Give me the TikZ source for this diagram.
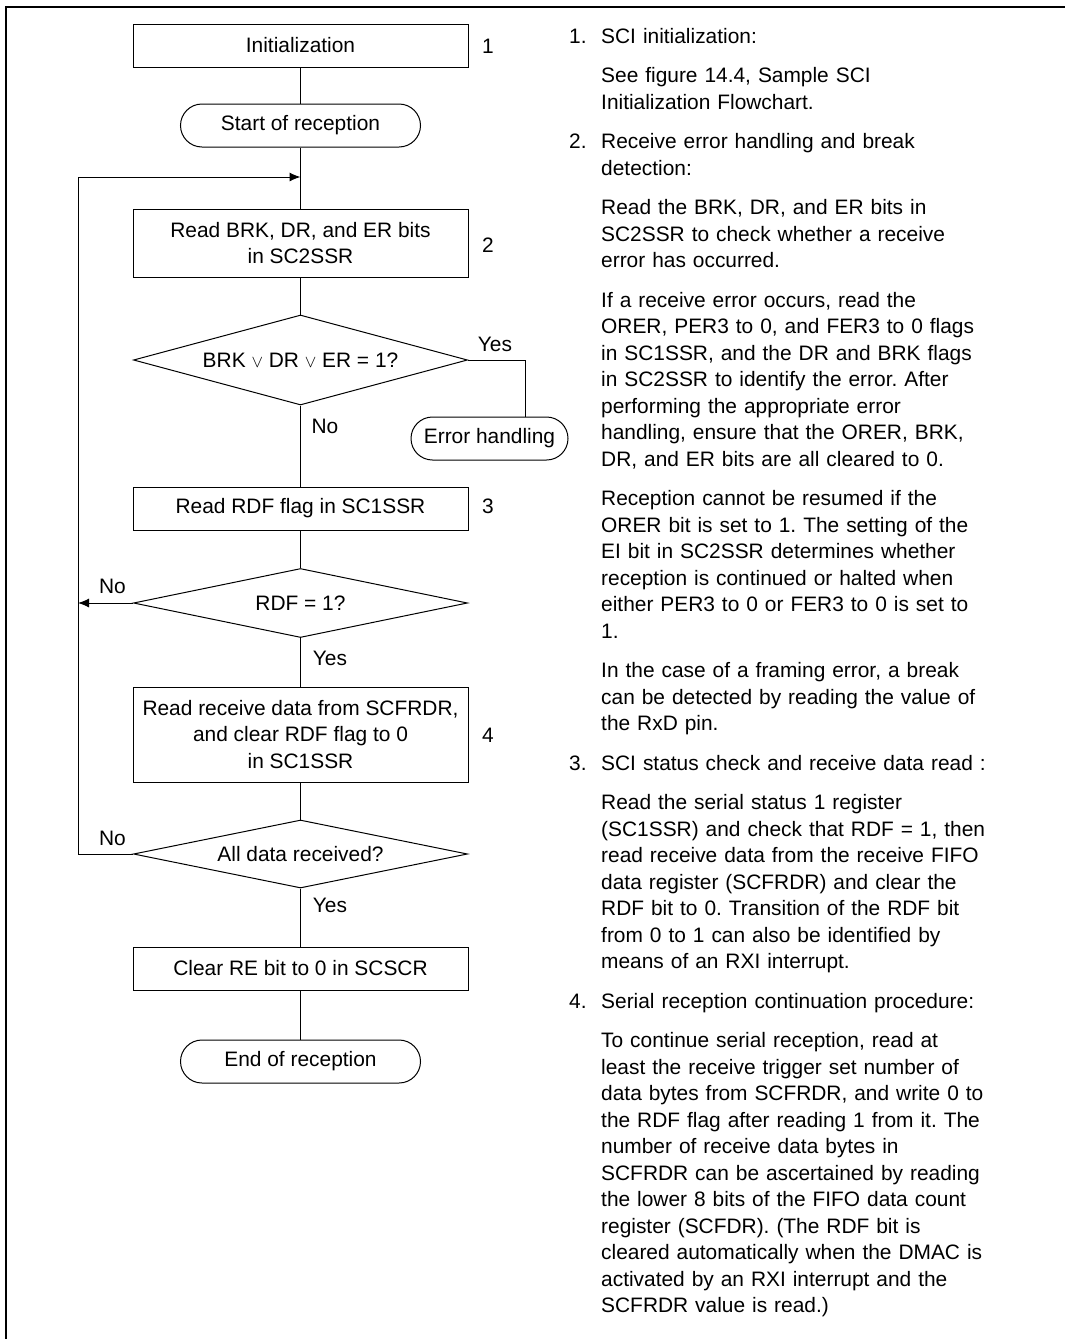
\documentclass[tikz,border=0pt]{standalone}
\usepackage{fontspec}
\setmainfont{Liberation Sans}
\usetikzlibrary{shapes.geometric,arrows.meta}
\frenchspacing
\begin{document}
\begin{tikzpicture}[x=1pt,y=-1pt,
  every node/.style={font=\fontsize{20.9}{26.5}\selectfont\frenchspacing},
  box/.style={draw,line width=1pt,rectangle,minimum width=335pt,inner sep=0pt,align=center},
  term/.style={draw,line width=1pt,rounded corners=21.5pt,minimum height=43pt,inner sep=0pt},
  dec/.style={draw,line width=1pt,diamond,inner sep=0pt,minimum width=334pt},
  conn/.style={line width=1pt},
  tip/.style={-{Latex[length=11pt,width=9pt]}},
  lbl/.style={inner sep=0pt},
  num/.style={anchor=base west,inner sep=0pt},
  para/.style={anchor=base west,inner sep=0pt,text width=455pt,align=left},
]
\useasboundingbox (0,0) rectangle (1065,1339);
% frame
\draw[line width=2pt] (5.7,1339) -- (5.7,6.8) -- (1065,6.8);

% flowchart nodes
\node[box,minimum height=43pt] (init) at (300.5,45.5) {Initialization};
\node[term,minimum width=240pt] (start) at (300.5,125.5) {Start of reception};
\node[box,minimum height=68pt] (brk) at (300.5,243) {Read BRK, DR, and ER bits\\in SC2SSR};
\node[dec,minimum height=90pt,shape aspect=3.7] (d1) at (300.5,360) {BRK {\fontsize{17}{17}\selectfont$\vee$} DR {\fontsize{17}{17}\selectfont$\vee$} ER = 1?};
\node[term,minimum width=157pt] (errh) at (489.5,438.5) {Error handling};
\node[box,minimum height=43pt] (rdf) at (300.5,508.5) {Read RDF flag in SC1SSR};
\node[dec,minimum height=69pt,shape aspect=4.8] (d2) at (300.5,603) {RDF = 1?};
\node[box,minimum height=95pt] (rrd) at (300.5,734.5) {Read receive data from SCFRDR,\\and clear RDF flag to 0\\in SC1SSR};
\node[dec,minimum height=68pt,shape aspect=4.9] (d3) at (300.5,854) {All data received?};
\node[box,minimum height=43pt] (clr) at (300.5,968.5) {Clear RE bit to 0 in SCSCR};
\node[term,minimum width=240pt] (fin) at (300.5,1061.5) {End of reception};

% step numbers
\node[lbl] (n1) at (488,46) {1};
\node[lbl] (n2) at (488,245) {2};
\node[lbl] (n3) at (488,506) {3};
\node[lbl] (n4) at (488,735) {4};

% branch labels
\node[lbl] (y1) at (495,344.5) {Yes};
\node[lbl] (no1) at (325,426) {No};
\node[lbl] (no2) at (112.5,586) {No};
\node[lbl] (y2) at (330,658) {Yes};
\node[lbl] (no3) at (112.5,838) {No};
\node[lbl] (y3) at (330,905) {Yes};

% connectors
\coordinate (merge) at (300.5,177);
\coordinate (lx) at (78,177);
\coordinate (ey) at (525,360);
\draw[conn] (init) -- (start);
\draw[conn] (start) -- (brk);
\draw[conn] (brk) -- (d1);
\draw[conn] (d1.east) -- (ey) -- (ey |- errh.north);
\draw[conn] (d1) -- (rdf);
\draw[conn] (rdf) -- (d2);
\draw[conn,tip] (d2.west) -- (d2.west -| lx);
\draw[conn] (d2) -- (rrd);
\draw[conn] (rrd) -- (d3);
\draw[conn,tip] (d3.west) -- (d3.west -| lx) -- (lx) -- (merge);
\draw[conn] (d3) -- (clr);
\draw[conn] (clr) -- (fin);

% explanatory text
\node[num] (k1) at (569,43.3) {1.};
\node[para] (p1) at (601,43.3) {SCI initialization:};
\node[para] (p2) at (601,82.8) {See figure 14.4, Sample SCI\\Initialization Flowchart.};
\node[num] (k2) at (569,148.8) {2.};
\node[para] (p3) at (601,148.8) {Receive error handling and break\\detection:};
\node[para] (p4) at (601,214.8) {Read the BRK, DR, and ER bits in\\SC2SSR to check whether a receive\\error has occurred.};
\node[para] (p5) at (601,307.3) {If a receive error occurs, read the\\ORER, PER3 to 0, and FER3 to 0 flags\\in SC1SSR, and the DR and BRK flags\\in SC2SSR to identify the error. After\\performing the appropriate error\\handling, ensure that the ORER, BRK,\\DR, and ER bits are all cleared to 0.};
\node[para] (p6) at (601,505.8) {Reception cannot be resumed if the\\ORER bit is set to 1. The setting of the\\EI bit in SC2SSR determines whether\\reception is continued or halted when\\either PER3 to 0 or FER3 to 0 is set to\\1.};
\node[para] (p7) at (601,677.8) {In the case of a framing error, a break\\can be detected by reading the value of\\the RxD pin.};
\node[num] (k3) at (569,770.3) {3.};
\node[para] (p8) at (601,770.3) {SCI status check and receive data read :};
\node[para] (p9) at (601,809.8) {Read the serial status 1 register\\(SC1SSR) and check that RDF = 1, then\\read receive data from the receive FIFO\\data register (SCFRDR) and clear the\\RDF bit to 0. Transition of the RDF bit\\from 0 to 1 can also be identified by\\means of an RXI interrupt.};
\node[num] (k4) at (569,1008.3) {4.};
\node[para] (p10) at (601,1008.3) {Serial reception continuation procedure:};
\node[para] (p11) at (601,1047.8) {To continue serial reception, read at\\least the receive trigger set number of\\data bytes from SCFRDR, and write 0 to\\the RDF flag after reading 1 from it. The\\number of receive data bytes in\\SCFRDR can be ascertained by reading\\the lower 8 bits of the FIFO data count\\register (SCFDR). (The RDF bit is\\cleared automatically when the DMAC is\\activated by an RXI interrupt and the\\SCFRDR value is read.)};
\end{tikzpicture}
\end{document}
